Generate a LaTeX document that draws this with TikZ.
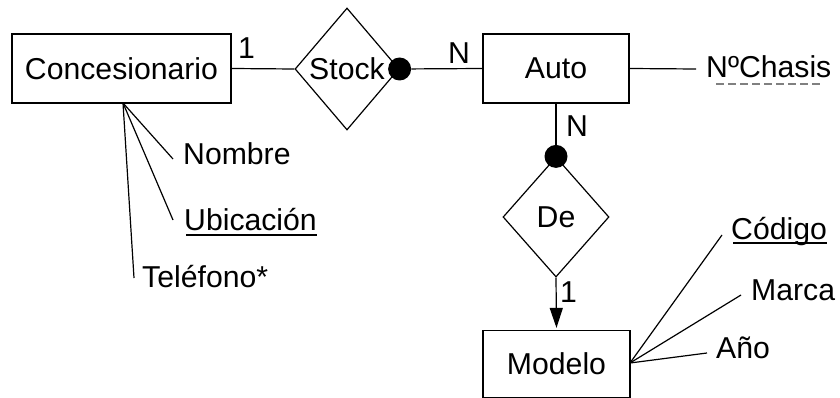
\documentclass[tikz,border=0pt]{standalone}
\usepackage{fontspec}
\setmainfont{Liberation Sans}
\usetikzlibrary{shapes.geometric,arrows.meta}
\begin{document}
\begin{tikzpicture}[x=1pt,y=-1pt,
  every node/.style={font=\fontsize{30.2}{36}\selectfont},
  entity/.style={draw, line width=1.2pt, rectangle, inner sep=0pt},
  relation/.style={draw, line width=1.2pt, diamond, inner sep=0pt, aspect=0.85},
  attrtext/.style={inner sep=0pt, anchor=base west},
  card/.style={inner sep=0pt, anchor=base west},
  blob/.style={circle, fill=black, inner sep=0pt, minimum size=23pt},
  link/.style={line width=1.2pt},
]
\useasboundingbox (0,0) rectangle (840,398);

% entities
\node[entity, minimum width=219pt, minimum height=69pt] (con) at (121.5,68.5) {Concesionario};
\node[entity, minimum width=146pt, minimum height=69pt] (auto) at (556,68.5) {Auto};
\node[entity, minimum width=147pt, minimum height=67pt] (mod) at (556.5,364) {Modelo};

% relationships
\node[relation, minimum width=104pt, minimum height=122pt] (stock) at (347,69) {Stock};
\node[relation, minimum width=106pt, minimum height=120pt] (de) at (556,217) {De};

% participation dots
\node[blob] (dotS) at (stock.east) {};
\node[blob] (dotD) at (de.north) {};

% relationship links
\draw[link] (con.east) -- (stock.west);
\draw[link] (dotS) -- (auto.west);
\draw[link] (auto.south) -- (dotD);
\draw[link, -{Triangle[width=13pt,length=20pt]}, shorten >=2pt] (de.south) -- (mod.north);

% cardinalities
\node[card] (c1) at (238,59) {1};
\node[card] (c2) at (448,64) {N};
\node[card] (c3) at (566,137) {N};
\node[card] (c4) at (560,302) {1};

% attributes of Concesionario
\node[attrtext] (nombre) at (183,165) {Nombre};
\node[attrtext] (ubic) at (184,230) {Ubicación};
\node[attrtext] (tel) at (142,287) {Teléfono*};
\coordinate (conroot) at (123,103);
\coordinate (pNombre) at (173,159);
\coordinate (pUbic) at (173,220);
\coordinate (pTel) at (134,278);
\draw[link] (conroot) -- (pNombre);
\draw[link] (conroot) -- (pUbic);
\draw[link] (conroot) -- (pTel);
\draw[line width=1.2pt] ([xshift=2pt,yshift=-5pt]ubic.base west) -- ([yshift=-5pt]ubic.base east);

% attribute of Auto
\node[attrtext] (chasis) at (706,78) {NºChasis};
\coordinate (pChasis) at (696,69);
\draw[link] (auto.east) -- (pChasis);
\draw[line width=1.2pt, gray, dash pattern=on 8pt off 4pt] (716,84) -- (823,84);

% attributes of Modelo
\node[attrtext] (codigo) at (731,239) {Código};
\node[attrtext] (marca) at (751,300) {Marca};
\node[attrtext] (anio) at (716,358) {Año};
\coordinate (modroot) at (630,363);
\coordinate (pCodigo) at (722,235);
\coordinate (pMarca) at (741,295);
\coordinate (pAnio) at (707,353);
\draw[link] (modroot) -- (pCodigo);
\draw[link] (modroot) -- (pMarca);
\draw[link] (modroot) -- (pAnio);
\draw[line width=1.2pt] ([xshift=2pt,yshift=-4pt]codigo.base west) -- ([yshift=-4pt]codigo.base east);
\end{tikzpicture}
\end{document}
